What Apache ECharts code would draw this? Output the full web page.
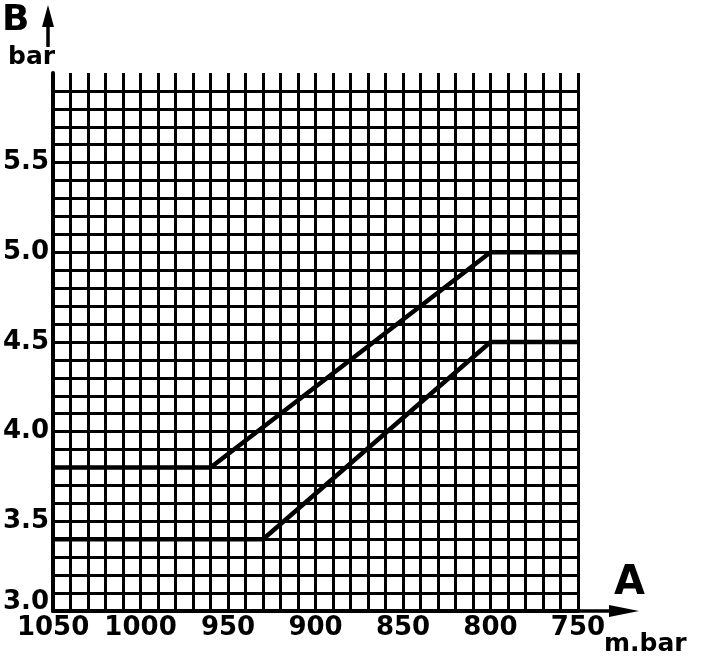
<!DOCTYPE html>
<html>
<head>
<meta charset="utf-8">
<script src="https://cdn.jsdelivr.net/npm/echarts@6/dist/echarts.min.js"></script>
<style>
html, body { margin: 0; padding: 0; background: #fff; }
#chart { width: 704px; height: 658px; }
</style>
</head>
<body>
<div id="chart"></div>
<script>
// the two curves, A in m.bar and B in bar
var upperA = [1050, 960, 800, 750]
var upperB = [3.8, 3.8, 5.0, 5.0]
var lowerA = [1050, 930, 800, 750]
var lowerB = [3.4, 3.4, 4.5, 4.5]

var xTickLabels = ['1050', '1000', '950', '900', '850', '800', '750']
var yTickLabels = ['3.0', '3.5', '4.0', '4.5', '5.0', '5.5']

function pairs(xs, ys) {
    var rs = []
    for (var i = 0; i < xs.length; i++) {
        rs.push([xs[i], ys[i]])
    }
    return rs
}

// horizontal grid: black everywhere except the very top edge, which is open
var hColors = []
for (var k = 0; k < 30; k++) hColors.push('#000')
hColors.push('rgba(0,0,0,0)')

var font = 'DejaVu Sans'
var myChart = echarts.init(document.getElementById('chart'))

myChart.setOption({
    animation: false,
    backgroundColor: '#fff',
    grid: { left: 48, right: 126, top: 73, bottom: 47 },
    xAxis: {
        type: 'value',
        inverse: true,
        min: 750,
        max: 1050,
        interval: 10,
        axisLine: { show: true, lineStyle: { color: '#000', width: 4 } },
        axisTick: { show: false },
        splitLine: { show: true, lineStyle: { color: '#000', width: 3 } },
        axisLabel: {
            color: '#000',
            fontFamily: font,
            fontWeight: 'bold',
            fontSize: 26,
            margin: 4,
            formatter: function(v) {
                var s = String(v)
                return xTickLabels.indexOf(s) >= 0 ? s : ''
            }
        }
    },
    yAxis: {
        type: 'value',
        min: 3.0,
        max: 6.0,
        interval: 0.1,
        axisLine: { show: true, lineStyle: { color: '#000', width: 4 } },
        axisTick: { show: false },
        splitLine: { show: true, lineStyle: { color: hColors, width: 3 } },
        axisLabel: {
            color: '#000',
            fontFamily: font,
            fontWeight: 'bold',
            fontSize: 26,
            margin: 4,
            formatter: function(v) {
                var s = v.toFixed(1)
                if (yTickLabels.indexOf(s) < 0) return ''
                // bottom label sits a little higher, clear of 1050
                return s == yTickLabels[0] ? '{low|' + s + '}' : s
            },
            rich: {
                low: { fontFamily: font, fontWeight: 'bold', fontSize: 26, color: '#000', padding: [0, 0, 18, 0] }
            }
        }
    },
    series: [{
        name: 'upper',
        type: 'line',
        data: pairs(upperA, upperB),
        symbol: 'none',
        lineStyle: { color: '#000', width: 4.5 }
    }, {
        name: 'lower',
        type: 'line',
        data: pairs(lowerA, lowerB),
        symbol: 'none',
        lineStyle: { color: '#000', width: 4.5 }
    }],
    graphic: [
        // B axis title and arrow
        { type: 'text', left: 2, top: 3, style: { text: 'B', fill: '#000', font: 'bold 36px ' + font } },
        { type: 'text', left: 8, top: 45, style: { text: 'bar', fill: '#000', font: 'bold 25px ' + font } },
        { type: 'line', shape: { x1: 48, y1: 47, x2: 48, y2: 22 }, style: { stroke: '#000', lineWidth: 3.5 } },
        { type: 'polygon', shape: { points: [[48, 5], [42, 27], [54, 27]] }, style: { fill: '#000' } },
        // A axis title and arrow
        { type: 'text', left: 614, top: 564, style: { text: 'A', fill: '#000', font: 'bold 40px ' + font } },
        { type: 'text', left: 604, top: 632, style: { text: 'm.bar', fill: '#000', font: 'bold 25px ' + font } },
        { type: 'line', shape: { x1: 578, y1: 611, x2: 615, y2: 611 }, style: { stroke: '#000', lineWidth: 3.5 } },
        { type: 'polygon', shape: { points: [[639, 611], [609, 605], [609, 617]] }, style: { fill: '#000' } }
    ]
})
</script>
</body>
</html>
